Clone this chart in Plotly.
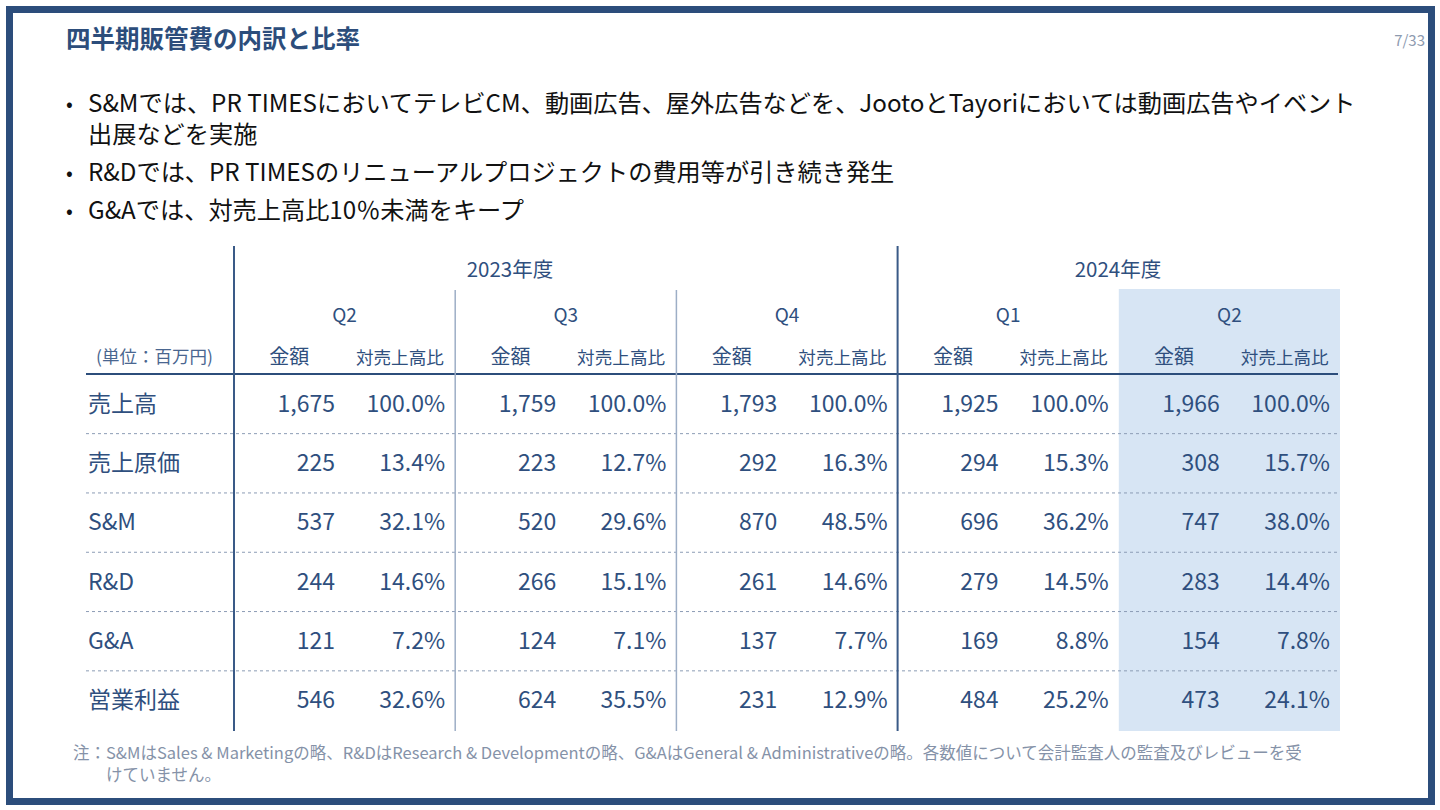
import plotly.graph_objects as go

# ---------------- data ----------------
title = "四半期販管費の内訳と比率"
page_no = "7/33"
bullets = [
    ["S&Mでは、PR TIMESにおいてテレビCM、動画広告、屋外広告などを、JootoとTayoriにおいては動画広告やイベント",
     "出展などを実施"],
    ["R&Dでは、PR TIMESのリニューアルプロジェクトの費用等が引き続き発生"],
    ["G&Aでは、対売上高比10％未満をキープ"],
]
years = ["2023年度", "2024年度"]
quarters = ["Q2", "Q3", "Q4", "Q1", "Q2"]
sub_headers = ["金額", "対売上高比"]
unit_label = "(単位：百万円)"
row_labels = ["売上高", "売上原価", "S&M", "R&D", "G&A", "営業利益"]
amounts = [
    [1675, 1759, 1793, 1925, 1966],
    [225, 223, 292, 294, 308],
    [537, 520, 870, 696, 747],
    [244, 266, 261, 279, 283],
    [121, 124, 137, 169, 154],
    [546, 624, 231, 484, 473],
]
ratios = [
    [100.0, 100.0, 100.0, 100.0, 100.0],
    [13.4, 12.7, 16.3, 15.3, 15.7],
    [32.1, 29.6, 48.5, 36.2, 38.0],
    [14.6, 15.1, 14.6, 14.5, 14.4],
    [7.2, 7.1, 7.7, 8.8, 7.8],
    [32.6, 35.5, 12.9, 25.2, 24.1],
]
footnote = ["注：S&MはSales & Marketingの略、R&DはResearch & Developmentの略、G&AはGeneral & Administrativeの略。各数値について会計監査人の監査及びレビューを受",
            "けていません。"]

# ---------------- styles / layout geometry ----------------
W, H = 1440, 810
FONT = "Noto Sans CJK JP"
NAVY = "#2C4D7B"
TXT = "#2F4F7E"
GREY = "#8592A8"
HIL = "#D7E5F4"

col_x0 = 234.0
col_w = 221.2
n_cols = len(quarters)
row_y0 = 404.0
row_h = 59.3
label_x = 90
y_year, y_q, y_sub = 270, 315, 357
header_line_y = 374
table_left, table_right = 86, 1338
table_bottom = 731
DY = 2  # vertical text nudge

fig = go.Figure()

def text_trace(xs, ys, texts, size, color, pos, weight="normal"):
    fig.add_trace(go.Scatter(
        x=xs, y=[v + DY for v in ys], text=texts, mode="text", textposition=pos,
        textfont=dict(family=FONT, size=size, color=color, weight=weight),
        hoverinfo="skip", showlegend=False, cliponaxis=False))

shapes = []
# frame
shapes.append(dict(type="rect", xref="x", yref="y", x0=9.5, x1=1431.5, y0=9.5, y1=801.5,
                   line=dict(color=NAVY, width=7), fillcolor="rgba(0,0,0,0)", layer="above"))
# highlight of latest quarter
hx0 = col_x0 + col_w * (n_cols - 1)
shapes.append(dict(type="rect", xref="x", yref="y", x0=hx0, x1=col_x0 + col_w * n_cols,
                   y0=289, y1=table_bottom, line=dict(width=0), fillcolor=HIL, layer="below"))
# header line
shapes.append(dict(type="line", xref="x", yref="y", x0=table_left, x1=table_right,
                   y0=header_line_y, y1=header_line_y, line=dict(color=NAVY, width=2)))
# dotted row separators
for i in range(len(row_labels) - 1):
    yy = row_y0 + row_h * (i + 0.5)
    shapes.append(dict(type="line", xref="x", yref="y", x0=table_left, x1=table_right,
                       y0=yy, y1=yy, line=dict(color="#8C9CB5", width=1, dash="dot")))
# vertical lines
for k in range(n_cols):
    xx = col_x0 + col_w * k
    if k == 0 or k == 3:
        shapes.append(dict(type="line", xref="x", yref="y", x0=xx, x1=xx, y0=246, y1=table_bottom,
                           line=dict(color="#3A5A87", width=2)))
    elif k < n_cols - 1:
        shapes.append(dict(type="line", xref="x", yref="y", x0=xx, x1=xx, y0=290, y1=table_bottom,
                           line=dict(color="#9DAEC6", width=1.5)))

# title & page number
text_trace([66], [40], [title], 24.5, NAVY, "middle right", "bold")
text_trace([1425], [40], [page_no], 15, "#8D9AAF", "middle left")

# bullets (multi-line bullet drawn as one text block)
b_first = [104, 173, 211]
for b, y0 in zip(bullets, b_first):
    text_trace([66], [y0], ["•"], 20, "#111111", "middle right")
    n = len(b)
    yc = y0 + 31.2 * (n - 1) / 2
    text_trace([88], [yc], ["<br>".join(b)], 24.2, "#111111", "middle right")

# headers
text_trace([510, 1118], [y_year, y_year], years, 20.5, TXT, "middle center")
qx = [col_x0 + col_w * (k + 0.5) for k in range(n_cols)]
text_trace(qx, [y_q] * n_cols, quarters, 19, TXT, "middle center")
ax = [col_x0 + col_w * (k + 0.25) for k in range(n_cols)]
rx = [col_x0 + col_w * (k + 0.75) for k in range(n_cols)]
text_trace(ax, [y_sub] * n_cols, [sub_headers[0]] * n_cols, 20, TXT, "middle center")
text_trace(rx, [y_sub + 1] * n_cols, [sub_headers[1]] * n_cols, 17.6, TXT, "middle center")
text_trace([96], [y_sub], [unit_label], 17.5, "#4A6690", "middle right")

# rows
for i, lab in enumerate(row_labels):
    yy = row_y0 + row_h * i
    text_trace([label_x - 2], [yy], [lab], 23, TXT, "middle right")
    text_trace([col_x0 + col_w * k + 101 for k in range(n_cols)], [yy] * n_cols,
               [f"{v:,}" for v in amounts[i]], 23, TXT, "middle left")
    text_trace([col_x0 + col_w * (k + 1) - 10 for k in range(n_cols)], [yy] * n_cols,
               [f"{v:.1f}%" for v in ratios[i]], 23, TXT, "middle left")

# footnote (second line indented under the "注：" prefix)
fn_size = 16.5
text_trace([73], [753 + fn_size * 1.3 / 2], [footnote[0] + "<br>　　" + footnote[1]],
           fn_size, GREY, "middle right")

fig.update_layout(
    width=W, height=H, margin=dict(l=0, r=0, t=0, b=0),
    paper_bgcolor="white", plot_bgcolor="white",
    xaxis=dict(range=[0, W], visible=False, fixedrange=True),
    yaxis=dict(range=[H, 0], visible=False, fixedrange=True),
    shapes=shapes, showlegend=False,
)
fig.write_html("out.html", config={"displayModeBar": False},
               post_script="document.body.style.margin='0';document.body.style.overflow='hidden';")
